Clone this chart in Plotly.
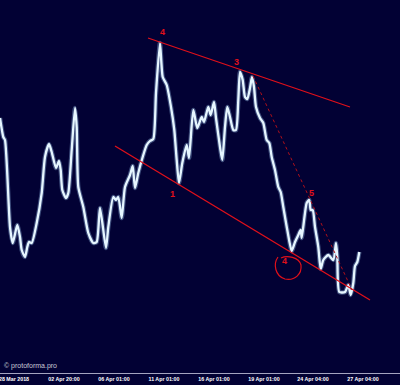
import plotly.graph_objects as go

# Price curve (x = bar position, y = level, higher = up)
pos = [0, 3.3, 5, 10, 12.7, 17.3, 20, 21.7, 25, 27.3, 29, 31.7, 36.7, 41.7, 45, 49, 51.7, 56, 59, 60.7,
       62.3, 66, 68.3, 71.7, 75, 76.7, 78.3, 83.3, 88.3, 93.3, 96.7, 100, 106, 108.3, 113.3, 116, 118.3,
       121.7, 125, 130, 132.7, 135, 138.3, 142.7, 146.7, 150, 153.3, 156, 160, 162.7, 166.7, 171, 174.3,
       176.7, 179, 182.3, 186.7, 189, 193.3, 197.3, 201.7, 204, 208.3, 210.7, 214, 216, 220, 222.3, 225,
       227.3, 230, 233.3, 236, 238.3, 240, 242.7, 245, 247.3, 250, 252, 254, 256, 260, 263.3, 266.7,
       269.3, 271.7, 275, 278.3, 280.7, 283.3, 287.3, 291.7, 295, 298.3, 300.7, 301.7, 306.7, 309.3,
       310.7, 312.7, 315, 318.3, 320.7, 323.3, 328.3, 333.3, 336, 337.3, 339.3, 345, 348.3, 350.7, 353.3,
       355, 357.3, 359.3]
pix = [118, 137, 140, 227, 243, 225, 237, 250, 257, 247, 242, 243, 223, 193, 157, 144, 152, 168, 161, 170,
       190, 198, 193, 150, 108, 127, 187, 207, 233, 243, 242, 208, 248, 227, 197, 200, 197,
       218, 187, 175, 166, 188, 173, 157, 145, 141, 139, 93, 43, 77, 85, 107, 130,
       160, 183, 163, 145, 158, 110, 128, 117, 122, 107, 115, 102, 118, 147, 160, 127,
       107, 117, 130, 130, 100, 72, 80, 97, 99, 88, 77, 87, 107, 118, 123, 140,
       143, 157, 170, 187, 192, 207, 230, 251, 242, 235, 230, 238, 203, 200,
       210, 210, 227, 247, 269, 260, 255, 260, 243, 257, 292, 292, 285, 295, 283,
       266, 262, 252]
level = [400 - p for p in pix]

# Trend lines (endpoints)
upper_x = [148, 350]
upper_y = [400 - 38, 400 - 107]
lower_x = [115, 370]
lower_y = [400 - 146, 400 - 300]
thin_x = [253, 352]
thin_y = [400 - 76, 400 - 290]

# Wave labels
wave_text = ["4", "3", "1", "5", "4"]
wave_x = [162, 236, 172.5, 311.5, 284]
wave_y = [400 - 32, 400 - 62, 400 - 194, 400 - 193, 400 - 261]

# Time axis
tick_pos = [14, 64, 114, 164, 214, 264, 313, 363]
tick_text = ["28 Mar 2018", "02 Apr 20:00", "06 Apr 01:00", "11 Apr 01:00",
             "16 Apr 01:00", "19 Apr 01:00", "24 Apr 04:00", "27 Apr 04:00"]

BG = "#020134"
RED = "#e0101a"

fig = go.Figure()
fig.add_trace(go.Scatter(x=pos, y=level, mode="lines",
                         line=dict(color="rgba(170,215,255,0.35)", width=4.5, shape="spline", smoothing=0.6),
                         hoverinfo="skip"))
fig.add_trace(go.Scatter(x=pos, y=level, mode="lines",
                         line=dict(color="#e6f6ff", width=2.3, shape="spline", smoothing=0.6)))
fig.add_trace(go.Scatter(x=upper_x, y=upper_y, mode="lines", line=dict(color=RED, width=1.3)))
fig.add_trace(go.Scatter(x=lower_x, y=lower_y, mode="lines", line=dict(color=RED, width=1.3)))
fig.add_trace(go.Scatter(x=thin_x, y=thin_y, mode="lines", line=dict(color="#b0101a", width=1, dash="dot")))

for t, x, y in zip(wave_text, wave_x, wave_y):
    fig.add_annotation(x=x, y=y, text=t, showarrow=False,
                       font=dict(family="Liberation Sans", size=9, color=RED, weight="bold"))

# hand-drawn circle around the circled "4"
cx, cy = 289, 400 - 266
fig.add_shape(type="path",
              path=(f"M {cx-11},{cy+9} C {cx-16},{cy+2} {cx-14},{cy-10} {cx-4},{cy-13} "
                    f"C {cx+6},{cy-15} {cx+13},{cy-8} {cx+12},{cy+1} "
                    f"C {cx+10},{cy+9} {cx-2},{cy+11} {cx-8},{cy+8}"),
              line=dict(color=RED, width=1.2))

fig.add_annotation(x=0, y=0, xref="paper", yref="paper", xanchor="left", yanchor="bottom",
                   xshift=2, yshift=1, text="© protoforma.pro", showarrow=False,
                   font=dict(family="Liberation Sans", size=7, color="#c9c9d6"))

fig.update_layout(
    width=400, height=385, margin=dict(l=0, r=0, t=0, b=12),
    paper_bgcolor=BG, plot_bgcolor=BG, showlegend=False,
    xaxis=dict(range=[0, 400], showgrid=False, zeroline=False, showline=True,
               linecolor="#a4a4c0", linewidth=1, tickvals=tick_pos, ticktext=tick_text,
               ticks="", ticklabelstandoff=1, ticklabeloverflow="allow",
               tickfont=dict(family="Liberation Sans", size=5.3, color="#ffffff", weight="bold")),
    yaxis=dict(range=[400 - 373, 400], showgrid=False, zeroline=False, showticklabels=False,
               showline=False),
)

fig.write_html("out.html")
